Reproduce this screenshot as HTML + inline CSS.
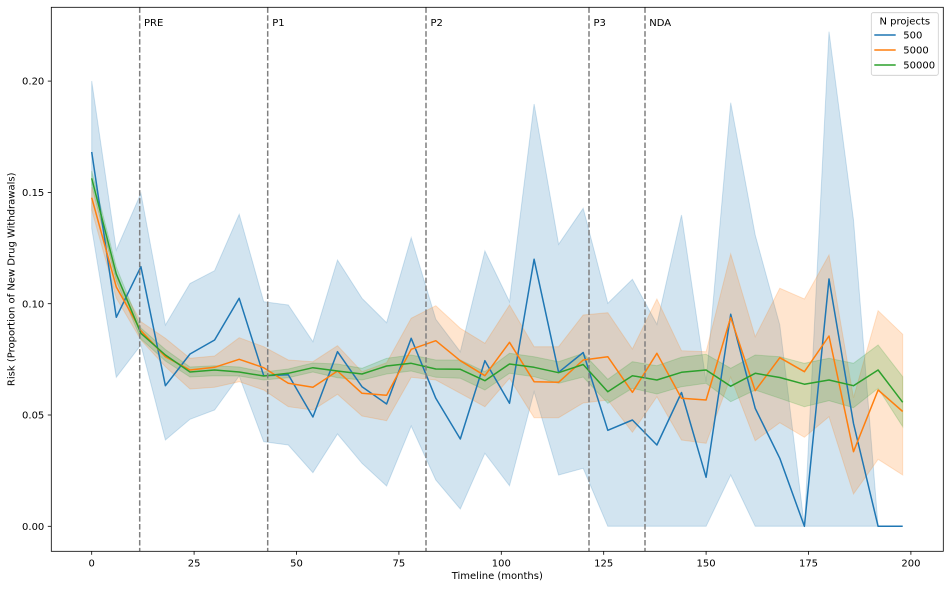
<!DOCTYPE html>
<html>
<head>
<meta charset="utf-8">
<style>
html,body{margin:0;padding:0;background:#fff;}
svg{display:block;}
text{font-family:"DejaVu Sans","Liberation Sans",sans-serif;font-size:10px;fill:#000;}
</style>
</head>
<body>
<svg width="950" height="589" viewBox="0 0 950 589" xmlns="http://www.w3.org/2000/svg">
<rect x="0" y="0" width="950" height="589" fill="#fff"/>
<defs>
<clipPath id="ax"><rect x="51.3" y="7.3" width="892" height="544"/></clipPath>
</defs>
<g clip-path="url(#ax)">
<!-- blue band -->
<polygon fill="#1f77b4" fill-opacity="0.2" stroke="#1f77b4" stroke-opacity="0.2" stroke-width="1" points="91.7,81 116.3,250 140.9,193.3 165.4,325 190,283.5 214.6,270.7 239.2,214.3 263.7,301.7 288.3,305 312.9,341.7 337.5,260 362,298.3 386.6,322.7 411.2,237.7 435.8,319.3 460.3,351.7 484.9,251 509.5,301.7 534.1,104 558.6,244.3 583.2,208.3 607.8,303.3 632.4,279.3 656.9,324.3 681.5,215 706.1,381.7 730.7,102.7 755.2,235 779.8,325 804.4,526.3 829,31.7 853.5,220 878.1,526.3 902.7,526.3 902.7,526.3 878.1,526.3 853.5,526.3 829,526.3 804.4,526.3 779.8,526.3 755.2,526.3 730.7,475 706.1,526.3 681.5,526.3 656.9,526.3 632.4,526.3 607.8,526.3 583.2,468.3 558.6,475 534.1,391.7 509.5,485.7 484.9,453.3 460.3,509 435.8,480 411.2,426 386.6,486 362,463.3 337.5,434 312.9,472.7 288.3,445 263.7,441.7 239.2,376 214.6,410 190,419.3 165.4,440 140.9,345 116.3,377.3 91.7,228.3"/>
<!-- orange band -->
<polygon fill="#ff7f0e" fill-opacity="0.2" stroke="#ff7f0e" stroke-opacity="0.2" stroke-width="1" points="91.7,187 116.3,277 140.9,321.7 165.4,338.3 190,358.3 214.6,356 239.2,337.7 263.7,346.7 288.3,360 312.9,361.7 337.5,345.7 362,371.7 386.6,362.7 411.2,318.3 435.8,305.7 460.3,328.3 484.9,343.3 509.5,305 534.1,346.7 558.6,346.7 583.2,315 607.8,312.7 632.4,349 656.9,299 681.5,350.7 706.1,351.7 730.7,254 755.2,336.7 779.8,288.3 804.4,299 829,255 853.5,397.7 878.1,310.7 902.7,334.3 902.7,475 878.1,459.3 853.5,494 829,416.7 804.4,437.3 779.8,422.7 755.2,440.7 730.7,377 706.1,443.3 681.5,440 656.9,396.7 632.4,432.3 607.8,400 583.2,403 558.6,417.7 534.1,417.7 509.5,378.3 484.9,406.7 460.3,393.3 435.8,380 411.2,377.3 386.6,420.7 362,416 337.5,394.3 312.9,410 288.3,406.7 263.7,390 239.2,381.7 214.6,387.3 190,389 165.4,366.7 140.9,340 116.3,298 91.7,210"/>
<!-- green band -->
<polygon fill="#2ca02c" fill-opacity="0.2" stroke="#2ca02c" stroke-opacity="0.2" stroke-width="1" points="91.7,171 116.3,267 140.9,328 165.4,349.5 190,367 214.6,365.7 239.2,367 263.7,372 288.3,369 312.9,363 337.5,364 362,368.3 386.6,358.3 411.2,355 435.8,360 460.3,360 484.9,371.7 509.5,353.3 534.1,356.7 558.6,361.7 583.2,353.3 607.8,379.3 632.4,361.7 656.9,365.7 681.5,357.3 706.1,354.3 730.7,368.3 755.2,355 779.8,356.7 804.4,363.3 829,358.3 853.5,363.3 878.1,345 902.7,376.7 902.7,426.7 878.1,388.3 853.5,407.7 829,400.7 804.4,406.7 779.8,398.3 755.2,390 730.7,401.7 706.1,383.3 681.5,386.7 656.9,394 632.4,388.3 607.8,403.3 583.2,377 558.6,383.3 534.1,376.7 509.5,373.3 484.9,390 460.3,378.3 435.8,377.3 411.2,371 386.6,374 362,380 337.5,377.7 312.9,372 288.3,377.7 263.7,380 239.2,376 214.6,375.7 190,377 165.4,361 140.9,339 116.3,281 91.7,185"/>
<!-- lines -->
<polyline fill="none" stroke="#1f77b4" stroke-width="1.5" stroke-linejoin="round" points="91.7,152 116.3,317.3 140.9,266.7 165.4,385.7 190,354 214.6,340 239.2,298.3 263.7,375.7 288.3,374.7 312.9,417 337.5,351.7 362,386.7 386.6,404 411.2,338.3 435.8,398.3 460.3,439 484.9,360.7 509.5,403.3 534.1,259.3 558.6,372.3 583.2,352.5 607.8,430.3 632.4,420 656.9,445 681.5,392.5 706.1,477.3 730.7,314.3 755.2,408.3 779.8,458.3 804.4,526.3 829,279 853.5,423.5 878.1,526.3 902.7,526.3"/>
<polyline fill="none" stroke="#ff7f0e" stroke-width="1.5" stroke-linejoin="round" points="91.7,197.7 116.3,287 140.9,330.7 165.4,356.7 190,370 214.6,367.3 239.2,359.3 263.7,367.7 288.3,383.3 312.9,387.3 337.5,371 362,393.3 386.6,395.3 411.2,349.3 435.8,340.7 460.3,360.7 484.9,375.7 509.5,342.3 534.1,381.7 558.6,382.3 583.2,360 607.8,356.7 632.4,392.3 656.9,353.3 681.5,398.3 706.1,400 730.7,317.5 755.2,390.7 779.8,357.7 804.4,371.7 829,336 853.5,451.7 878.1,390 902.7,411.5"/>
<polyline fill="none" stroke="#2ca02c" stroke-width="1.5" stroke-linejoin="round" points="91.7,178.3 116.3,274 140.9,333.3 165.4,355 190,372 214.6,370 239.2,372 263.7,376 288.3,373.3 312.9,367.7 337.5,371 362,374 386.6,366 411.2,363.3 435.8,369 460.3,369.3 484.9,380.7 509.5,364 534.1,367.3 558.6,372.7 583.2,364.5 607.8,391.7 632.4,375.7 656.9,380 681.5,372.3 706.1,370 730.7,386.2 755.2,373.3 779.8,377.5 804.4,384.2 829,380 853.5,385.7 878.1,370 902.7,402.3"/>
<!-- phase lines -->
<g stroke="#7f7f7f" stroke-width="1.5" stroke-dasharray="5.55 2.4">
<line x1="139.7" y1="7.3" x2="139.7" y2="551.3"/>
<line x1="267.7" y1="7.3" x2="267.7" y2="551.3"/>
<line x1="426" y1="7.3" x2="426" y2="551.3"/>
<line x1="589" y1="7.3" x2="589" y2="551.3"/>
<line x1="645" y1="7.3" x2="645" y2="551.3"/>
</g>
</g>
<!-- phase labels -->
<text x="144" y="26">PRE</text>
<text x="272.2" y="26">P1</text>
<text x="430.5" y="26">P2</text>
<text x="593.5" y="26">P3</text>
<text x="649.3" y="26">NDA</text>
<!-- axes frame -->
<rect x="51.3" y="7.3" width="892" height="544" fill="none" stroke="#000" stroke-width="0.8"/>
<!-- y ticks -->
<g stroke="#000" stroke-width="0.8">
<line x1="47.8" y1="526.3" x2="51.3" y2="526.3"/>
<line x1="47.8" y1="415" x2="51.3" y2="415"/>
<line x1="47.8" y1="303.7" x2="51.3" y2="303.7"/>
<line x1="47.8" y1="192.4" x2="51.3" y2="192.4"/>
<line x1="47.8" y1="81.1" x2="51.3" y2="81.1"/>
<line x1="91.7" y1="551.3" x2="91.7" y2="554.8"/>
<line x1="194.1" y1="551.3" x2="194.1" y2="554.8"/>
<line x1="296.5" y1="551.3" x2="296.5" y2="554.8"/>
<line x1="398.9" y1="551.3" x2="398.9" y2="554.8"/>
<line x1="501.3" y1="551.3" x2="501.3" y2="554.8"/>
<line x1="603.7" y1="551.3" x2="603.7" y2="554.8"/>
<line x1="706.1" y1="551.3" x2="706.1" y2="554.8"/>
<line x1="808.5" y1="551.3" x2="808.5" y2="554.8"/>
<line x1="910.9" y1="551.3" x2="910.9" y2="554.8"/>
</g>
<g text-anchor="end">
<text x="44.3" y="529.9">0.00</text>
<text x="44.3" y="418.6">0.05</text>
<text x="44.3" y="307.3">0.10</text>
<text x="44.3" y="196">0.15</text>
<text x="44.3" y="84.7">0.20</text>
</g>
<g text-anchor="middle">
<text x="91.7" y="566.3">0</text>
<text x="194.1" y="566.3">25</text>
<text x="296.5" y="566.3">50</text>
<text x="398.9" y="566.3">75</text>
<text x="501.3" y="566.3">100</text>
<text x="603.7" y="566.3">125</text>
<text x="706.1" y="566.3">150</text>
<text x="808.5" y="566.3">175</text>
<text x="910.9" y="566.3">200</text>
<text x="497.3" y="578.8">Timeline (months)</text>
<text transform="translate(14.6,279.3) rotate(-90)">Risk (Proportion of New Drug Withdrawals)</text>
</g>
<!-- legend -->
<rect x="871.3" y="12.7" width="67" height="62.6" rx="2" ry="2" fill="#fff" fill-opacity="0.8" stroke="#cccccc" stroke-width="0.8"/>
<text x="904.8" y="24.3" text-anchor="middle">N projects</text>
<line x1="874.3" y1="35" x2="895.7" y2="35" stroke="#1f77b4" stroke-width="1.5"/>
<line x1="874.3" y1="50" x2="895.7" y2="50" stroke="#ff7f0e" stroke-width="1.5"/>
<line x1="874.3" y1="65" x2="895.7" y2="65" stroke="#2ca02c" stroke-width="1.5"/>
<text x="903.3" y="38.6">500</text>
<text x="903.3" y="53.6">5000</text>
<text x="903.3" y="68.6">50000</text>
</svg>
</body>
</html>
